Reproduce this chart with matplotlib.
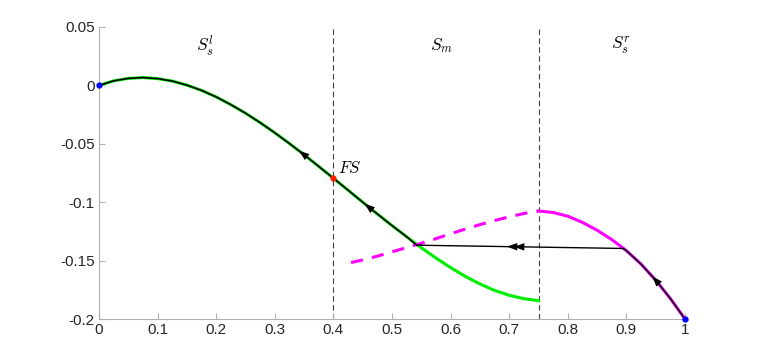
import numpy as np
import matplotlib
matplotlib.use("Agg")
import matplotlib.pyplot as plt

plt.rcParams['font.family'] = ['Liberation Sans', 'DejaVu Sans']
plt.rcParams['mathtext.fontset'] = 'cm'

# slow manifold, left branch (green)
green_x = [0.0, 0.025, 0.05, 0.075, 0.1, 0.125, 0.15, 0.175, 0.2, 0.225, 0.25,
           0.275, 0.3, 0.325, 0.35, 0.375, 0.4, 0.425, 0.45, 0.475, 0.5,
           0.525, 0.55, 0.575, 0.6, 0.625, 0.65, 0.675, 0.7, 0.725, 0.75]
green_y = [0.0, 0.0039, 0.0060, 0.0067, 0.0058, 0.0037, 0.0002, -0.0043, -0.0099,
           -0.0165, -0.0238, -0.0319, -0.0406, -0.0498, -0.0594, -0.0694, -0.0795,
           -0.0897, -0.1000, -0.1101, -0.1200, -0.1296, -0.1390, -0.1478, -0.1560,
           -0.1635, -0.1700, -0.1755, -0.1797, -0.1826, -0.1843]

# right branch (magenta): dashed part continues into S_m
mag_dash_x = [0.43, 0.45, 0.475, 0.5, 0.525, 0.55, 0.575, 0.6, 0.625, 0.65,
              0.675, 0.7, 0.725, 0.75]
mag_dash_y = [-0.1517, -0.1494, -0.1462, -0.1425, -0.1388, -0.1352, -0.1312,
              -0.1270, -0.1230, -0.1192, -0.1157, -0.1125, -0.1097, -0.1075]
mag_x = [0.75, 0.775, 0.8, 0.825, 0.85, 0.875, 0.9, 0.925, 0.95, 0.975, 1.0]
mag_y = [-0.1075, -0.1088, -0.1120, -0.1173, -0.1240, -0.1320, -0.1415,
         -0.1530, -0.1668, -0.1825, -0.2]

# trajectory: up the right branch, jump left, up the left branch
jump_x = [0.895, 0.542]
jump_y = [-0.1396, -0.1368]

boundaries = [0.4, 0.75]
fs_point = (0.4, -0.0795)
end_points_x = [0.0, 1.0]
end_points_y = [0.0, -0.2]

region_labels = [r'$S_s^l$', r'$S_m$', r'$S_s^r$']
region_x = [0.18, 0.585, 0.89]
region_y = 0.034

x_ticks = [0, 0.1, 0.2, 0.3, 0.4, 0.5, 0.6, 0.7, 0.8, 0.9, 1]
x_labels = ['0', '0.1', '0.2', '0.3', '0.4', '0.5', '0.6', '0.7', '0.8', '0.9', '1']
y_ticks = [-0.2, -0.15, -0.1, -0.05, 0, 0.05]
y_labels = ['-0.2', '-0.15', '-0.1', '-0.05', '0', '0.05']

fig = plt.figure(figsize=(7.63, 3.58), dpi=100)
ax = fig.add_axes([0.1298, 0.1089, 0.768, 0.8157])

gx = np.array(green_x)
gy = np.array(green_y)
mx = np.array(mag_x)
my = np.array(mag_y)

ax.plot(gx, gy, color='#00ee00', lw=2.2, zorder=2)
ax.plot(mag_dash_x, mag_dash_y, color='#ff00ff', lw=2.2, ls=(0, (4, 3)), zorder=2)
ax.plot(mx, my, color='#ff00ff', lw=2.2, zorder=2)

for b in boundaries:
    ax.axvline(b, color='#404040', lw=0.8, ls=(0, (5, 3)), zorder=1)

# trajectory in black
seg_r = mx >= 0.9
ax.plot(np.r_[jump_x[0], mx[seg_r]], np.r_[jump_y[0], my[seg_r]], color='#1a001a', lw=1.2, zorder=3)
ax.plot(jump_x, jump_y, color='k', lw=1.0, zorder=3)
seg_l = gx <= 0.542
ax.plot(np.r_[gx[seg_l], jump_x[1]], np.r_[gy[seg_l], jump_y[1]], color='k', lw=1.2, zorder=3)


def arrow_on(xs, ys, x0, direction):
    # arrowhead at x0 along curve (xs, ys), direction -1 = towards smaller x
    y0 = np.interp(x0, xs, ys)
    dx = 0.004 * direction
    y1 = np.interp(x0 + dx, xs, ys)
    ax.annotate('', xy=(x0 + dx, y1), xytext=(x0, y0),
                arrowprops=dict(arrowstyle='-|>,head_length=0.75,head_width=0.27',
                                color='k', lw=0, shrinkA=0, shrinkB=0),
                zorder=4)


arrow_on(gx, gy, 0.345, -1)
arrow_on(gx, gy, 0.457, -1)
arrow_on(mx, my, 0.948, -1)
arrow_on(np.array(jump_x[::-1]), np.array(jump_y[::-1]), 0.712, -1)
arrow_on(np.array(jump_x[::-1]), np.array(jump_y[::-1]), 0.700, -1)

ax.plot(end_points_x, end_points_y, 'o', color='#0000ff', ms=3.5, zorder=5, clip_on=False)
ax.plot(*fs_point, 'o', color='#ff2000', ms=3.5, zorder=5)
ax.text(fs_point[0] + 0.008, fs_point[1] + 0.002, r'$FS$', fontsize=12, va='bottom', ha='left')

for lab, lx in zip(region_labels, region_x):
    ax.text(lx, region_y, lab, fontsize=12.5, ha='center', va='center')

ax.set_xlim(0, 1)
ax.set_ylim(-0.2, 0.05)
ax.set_xticks(x_ticks)
ax.set_xticklabels(x_labels)
ax.set_yticks(y_ticks)
ax.set_yticklabels(y_labels)
for side in ['top', 'right']:
    ax.spines[side].set_visible(False)
for side in ['left', 'bottom']:
    ax.spines[side].set_color('#b0b0b0')
    ax.spines[side].set_linewidth(0.8)
ax.tick_params(direction='in', length=4, color='#b0b0b0', labelsize=11,
               labelcolor='#262626', pad=3)

fig.savefig('out.png', dpi=100)
